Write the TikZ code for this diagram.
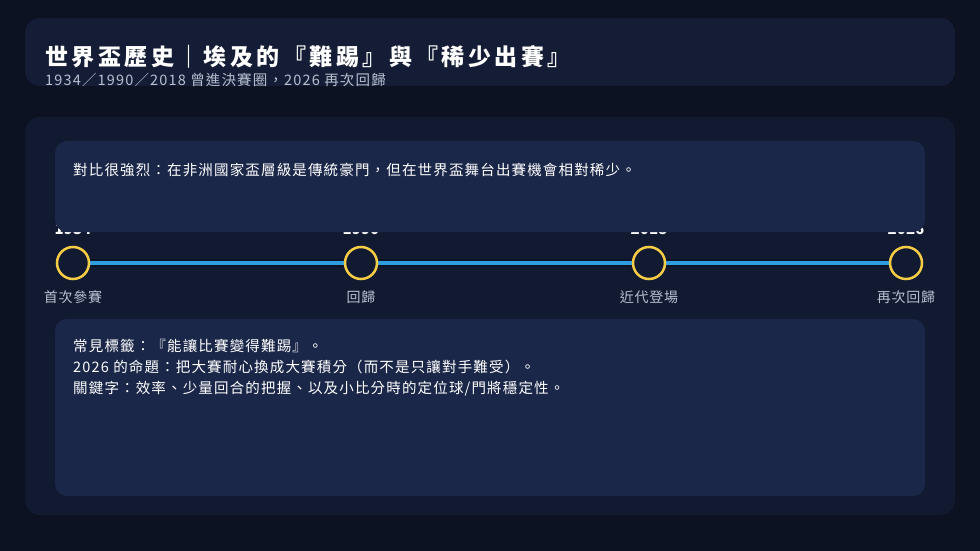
\documentclass[tikz,border=0pt]{standalone}
\usepackage{fontspec}
\setmainfont{Noto Sans CJK TC}
\newfontfamily\titlef[LetterSpace=15]{Noto Sans CJK TC}
\newfontfamily\bodyf[LetterSpace=8]{Noto Sans CJK TC}
\newfontfamily\lblf[LetterSpace=5]{Noto Sans CJK TC}
\begin{document}
\begin{tikzpicture}[x=1pt,y=-1pt,
  panel/.style={fill=panelc,draw=none,rounded corners=15pt},
  card/.style={fill=cardc,draw=none,rounded corners=12pt},
  yr/.style={font=\bfseries\fontsize{15}{17}\selectfont,text=white},
  lbl/.style={font=\lblf\fontsize{14}{16}\selectfont,text=subc},
  body/.style={font=\bodyf\fontsize{14.5}{21}\selectfont,text=white,anchor=west,align=left},
  dot/.style={circle,minimum size=32pt,inner sep=0pt,draw=goldc,line width=2.5pt,fill=panelc}]
\definecolor{bgc}{HTML}{0C1222}
\definecolor{headc}{HTML}{141D35}
\definecolor{panelc}{HTML}{111A31}
\definecolor{cardc}{HTML}{1B2749}
\definecolor{subc}{HTML}{B8C0D0}
\definecolor{goldc}{HTML}{F5CC45}
\definecolor{bluec}{HTML}{2E9EE0}
\definecolor{linec}{HTML}{0A1428}
\fill[bgc] (0,0) rectangle (980,551);
\useasboundingbox (0,0) rectangle (980,551);
\fill[headc,rounded corners=15pt] (25,18) rectangle (955,86);
\node[anchor=base west,inner sep=0,font=\titlef\bfseries\fontsize{23}{25}\selectfont,text=white] (title) at (45,66) {世界盃歷史｜埃及的『難踢』與『稀少出賽』};
\node[anchor=base west,inner sep=0,font=\bodyf\fontsize{14.5}{16}\selectfont,text=subc] (sub) at (45,85) {1934／1990／2018 曾進決賽圈，2026 再次回歸};
\fill[panel] (25,117) rectangle (955,515);
% timeline
\node[yr] (y1) at (73,229) {1934};
\node[yr] (y2) at (361,229) {1990};
\node[yr] (y3) at (649,229) {2018};
\node[yr] (y4) at (906,229) {2026};
\fill[card] (55,141) rectangle (925,232);
\node[body,inner sep=0] (t1) at (73,170) {對比很強烈：在非洲國家盃層級是傳統豪門，但在世界盃舞台出賽機會相對稀少。};
\coordinate (a) at (73,263); \coordinate (b) at (906,263);
\draw[linec,line width=8pt] (a) -- (b);
\draw[bluec,line width=4.5pt] (a) -- (b);
\node[dot] (c1) at (73,263) {};
\node[dot] (c2) at (361,263) {};
\node[dot] (c3) at (649,263) {};
\node[dot] (c4) at (906,263) {};
\node[lbl] at (73,297) {首次參賽};
\node[lbl] at (361,297) {回歸};
\node[lbl] at (649,297) {近代登場};
\node[lbl] at (906,297) {再次回歸};
\fill[card] (55,319) rectangle (925,496);
\node[body,inner sep=0,anchor=north west] (t2) at (73,339) {常見標籤：『能讓比賽變得難踢』。\\2026 的命題：把大賽耐心換成大賽積分（而不是只讓對手難受）。\\關鍵字：效率、少量回合的把握、以及小比分時的定位球/門將穩定性。};
\end{tikzpicture}
\end{document}
